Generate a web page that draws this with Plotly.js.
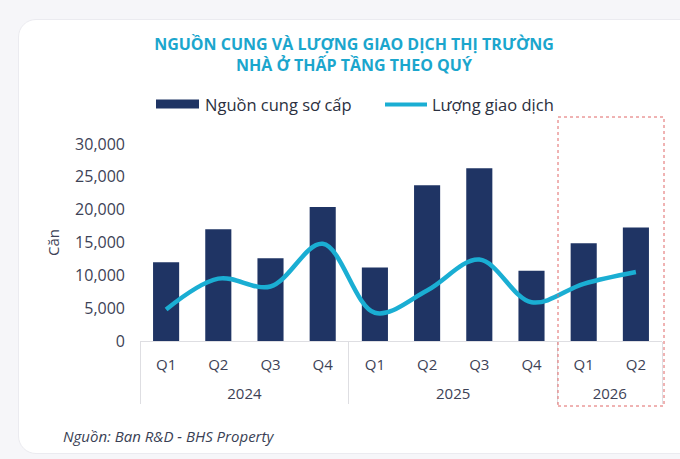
<!DOCTYPE html>
<html>
<head>
<meta charset="utf-8">
<script src="https://cdn.plot.ly/plotly-3.0.1.min.js"></script>
<style>
  html, body { margin: 0; padding: 0; width: 680px; height: 459px; background: #f6f6f9; overflow: hidden; }
  #card { position: absolute; left: 18px; top: 19px; width: 700px; height: 433px; background: #ffffff;
          border: 1.5px solid #ebebf0; border-radius: 18px; }
  #chart { position: absolute; left: 0; top: 0; width: 680px; height: 459px; }
</style>
</head>
<body>
<div id="card"></div>
<div id="chart"></div>
<script>
// ---- data ----
const years = ['2024','2024','2024','2024','2025','2025','2025','2025','2026','2026'];
const quarters = ['Q1','Q2','Q3','Q4','Q1','Q2','Q3','Q4','Q1','Q2'];
const supply = [12000, 17000, 12600, 20400, 11200, 23700, 26300, 10700, 14900, 17300];
const transactions = [4800, 9500, 8300, 14800, 4300, 7700, 12400, 5900, 8700, 10500];
const yTicks = [0, 5000, 10000, 15000, 20000, 25000, 30000];
const yTickText = ['0', '5,000', '10,000', '15,000', '20,000', '25,000', '30,000'];
const supplyName = 'Nguồn cung sơ cấp';
const transName = 'Lượng giao dịch';

const NAVY = '#1f3464';
const CYAN = '#1aaed3';
const FONT = 'Open Sans, Lato, sans-serif';
const TXT = '#3d4256';

const traces = [
  {
    type: 'bar', name: supplyName,
    x: [years, quarters], y: supply,
    marker: { color: NAVY },
    hoverinfo: 'skip'
  },
  {
    type: 'scatter', mode: 'lines', name: transName,
    x: [years, quarters], y: transactions,
    line: { color: CYAN, width: 4.5, shape: 'spline', smoothing: 1 },
    hoverinfo: 'skip'
  }
];

// pixel helpers for layout decorations (plot area: x 140..662, y 144..341)
const L = 140, R = 662, T = 144, B = 341;
const px = v => (v - L) / (R - L);
const py = v => (B - v) / (B - T);

const layout = {
  width: 680, height: 459,
  margin: { l: L, r: 680 - R, t: T, b: 459 - B, pad: 0 },
  paper_bgcolor: 'rgba(0,0,0,0)',
  plot_bgcolor: 'rgba(0,0,0,0)',
  showlegend: false,
  bargap: 0.5,
  font: { family: FONT, color: TXT, size: 15 },
  title: {
    text: 'NGUỒN CUNG VÀ LƯỢNG GIAO DỊCH THỊ TRƯỜNG<br>NHÀ Ở THẤP TẦNG THEO QUÝ',
    font: { family: FONT, size: 16, color: '#1ba6cd', weight: 700 },
    x: 354 / 680, xref: 'container', xanchor: 'center',
    y: (459 - 50) / 459, yref: 'container', yanchor: 'middle'
  },
  xaxis: {
    type: 'multicategory',
    showline: true, linecolor: '#dedee2', linewidth: 1,
    showgrid: false, zeroline: false,
    tickson: 'labels', ticks: 'outside', ticklen: 17, tickcolor: 'rgba(0,0,0,0)',
    ticklabelstandoff: -7,
    showdividers: true, dividercolor: '#dedee2', dividerwidth: 1,
    tickfont: { family: FONT, size: 15, color: TXT },
    automargin: false
  },
  yaxis: {
    range: [0, 30000],
    tickvals: yTicks, ticktext: yTickText,
    showgrid: false, zeroline: false, showline: false,
    ticks: '', ticklabelstandoff: 14,
    tickfont: { family: FONT, size: 16, color: TXT },
    title: { text: 'Căn', font: { family: FONT, size: 15, color: TXT }, standoff: 11 },
    automargin: false
  },
  shapes: [
    // 2026 highlight box
    { type: 'rect', xref: 'paper', yref: 'paper',
      x0: px(558), x1: px(664), y0: py(406), y1: py(117),
      line: { color: '#e06666', width: 1, dash: 'dot' }, fillcolor: 'rgba(0,0,0,0)' },
    // legend swatches
    { type: 'rect', xref: 'paper', yref: 'paper',
      x0: px(156), x1: px(199), y0: py(108.5), y1: py(99.5),
      line: { width: 0 }, fillcolor: NAVY },
    { type: 'line', xref: 'paper', yref: 'paper',
      x0: px(385), x1: px(427), y0: py(104.5), y1: py(104.5),
      line: { color: CYAN, width: 4 } }
  ],
  annotations: [
    { text: supplyName, xref: 'paper', yref: 'paper', x: px(203), y: py(104), xanchor: 'left', yanchor: 'middle',
      showarrow: false, font: { family: FONT, size: 16.5, color: '#2b3040' } },
    { text: transName, xref: 'paper', yref: 'paper', x: px(430), y: py(104), xanchor: 'left', yanchor: 'middle',
      showarrow: false, font: { family: FONT, size: 16.5, color: '#2b3040' } },
    { text: '<i>Nguồn: Ban R&D - BHS Property</i>', xref: 'paper', yref: 'paper', x: px(61), y: py(436),
      xanchor: 'left', yanchor: 'middle', showarrow: false,
      font: { family: FONT, size: 15, color: '#3a3f55' } }
  ]
};

Plotly.newPlot('chart', traces, layout, { staticPlot: true, displayModeBar: false });
</script>
</body>
</html>
